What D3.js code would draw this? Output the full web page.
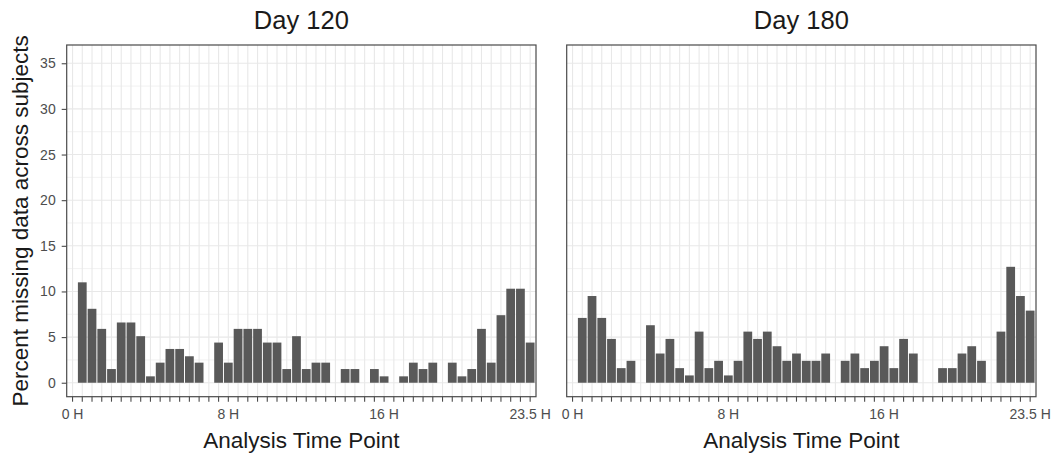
<!DOCTYPE html>
<html>
<head>
<meta charset="utf-8">
<script src="https://cdn.jsdelivr.net/npm/d3@7"></script>
<style>
body { margin: 0; background: #fff; }
text { font-family: "Liberation Sans", Arial, sans-serif; }
</style>
</head>
<body>
<script>
// analysis time points (half hour steps)
var timePoints = ["0 H","0.5 H","1 H","1.5 H","2 H","2.5 H","3 H","3.5 H","4 H","4.5 H","5 H","5.5 H",
	"6 H","6.5 H","7 H","7.5 H","8 H","8.5 H","9 H","9.5 H","10 H","10.5 H","11 H","11.5 H",
	"12 H","12.5 H","13 H","13.5 H","14 H","14.5 H","15 H","15.5 H","16 H","16.5 H","17 H","17.5 H",
	"18 H","18.5 H","19 H","19.5 H","20 H","20.5 H","21 H","21.5 H","22 H","22.5 H","23 H","23.5 H"];

var shownLabels = ["0 H","8 H","16 H","23.5 H"];

// percent missing
var day120 = [0, 11.0, 8.1, 5.9, 1.5, 6.6, 6.6, 5.1, 0.7, 2.2, 3.7, 3.7,
	2.9, 2.2, 0, 4.4, 2.2, 5.9, 5.9, 5.9, 4.4, 4.4, 1.5, 5.1,
	1.5, 2.2, 2.2, 0, 1.5, 1.5, 0, 1.5, 0.7, 0, 0.7, 2.2,
	1.5, 2.2, 0, 2.2, 0.7, 1.5, 5.9, 2.2, 7.4, 10.3, 10.3, 4.4];

var day180 = [0, 7.1, 9.5, 7.1, 4.8, 1.6, 2.4, 0, 6.3, 3.2, 4.8, 1.6,
	0.8, 5.6, 1.6, 2.4, 0.8, 2.4, 5.6, 4.8, 5.6, 4.0, 2.4, 3.2,
	2.4, 2.4, 3.2, 0, 2.4, 3.2, 1.6, 2.4, 4.0, 1.6, 4.8, 3.2,
	0, 0, 1.6, 1.6, 3.2, 4.0, 2.4, 0, 5.6, 12.7, 9.5, 7.9];

var yTicks = [0, 5, 10, 15, 20, 25, 30, 35];
var yMinor = [2.5, 7.5, 12.5, 17.5, 22.5, 27.5, 32.5];

var W = 1060, H = 454;
var plotTop = 45, plotBottom = 396.7;

var svg = d3.select("body").append("svg")
	.attr("width", W)
	.attr("height", H);

var y = d3.scaleLinear().domain([-1.53, 37.0]).range([plotBottom, plotTop]);

drawPanel = function(title, values, x0, x1, withY){
	var x = d3.scaleBand().domain(timePoints).range([x0, x1])
		.paddingInner(0.1).paddingOuter(0.15);
	var g = svg.append("g");

	// grid
	g.selectAll(".minor").data(yMinor).enter().append("line")
		.attr("x1", x0).attr("x2", x1)
		.attr("y1", function(d){ return y(d); })
		.attr("y2", function(d){ return y(d); })
		.attr("stroke", "#ebebeb").attr("stroke-width", 0.7);
	g.selectAll(".major").data(yTicks).enter().append("line")
		.attr("x1", x0).attr("x2", x1)
		.attr("y1", function(d){ return y(d); })
		.attr("y2", function(d){ return y(d); })
		.attr("stroke", "#e8e8e8").attr("stroke-width", 1.1);
	g.selectAll(".vgrid").data(timePoints).enter().append("line")
		.attr("x1", function(d){ return x(d) + x.bandwidth()/2; })
		.attr("x2", function(d){ return x(d) + x.bandwidth()/2; })
		.attr("y1", plotTop).attr("y2", plotBottom)
		.attr("stroke", "#e8e8e8").attr("stroke-width", 1.1);

	// bars
	values.forEach(function(v, i){
		if(v <= 0) return;
		g.append("rect")
			.attr("x", x(timePoints[i]))
			.attr("width", x.bandwidth())
			.attr("y", y(v))
			.attr("height", y(0) - y(v))
			.attr("fill", "#595959");
	});

	// border
	g.append("rect")
		.attr("x", x0).attr("y", plotTop)
		.attr("width", x1 - x0).attr("height", plotBottom - plotTop)
		.attr("fill", "none").attr("stroke", "#4a4a4a").attr("stroke-width", 1.2);

	// x axis
	var xAxis = d3.axisBottom(x).tickSizeInner(5).tickSizeOuter(0).tickPadding(7)
		.tickFormat(function(d){ return shownLabels.indexOf(d) >= 0 ? d : ""; });
	var ax = g.append("g").attr("transform", "translate(0," + plotBottom + ")").call(xAxis)
		.attr("font-size", 14).attr("font-family", "Liberation Sans, Arial, sans-serif");
	ax.select(".domain").remove();
	ax.selectAll("line").attr("stroke", "#4a4a4a").attr("stroke-width", 1.1);
	ax.selectAll("text").attr("fill", "#4d4d4d");

	if(withY){
		var yAxis = d3.axisLeft(y).tickValues(yTicks).tickSizeInner(5).tickSizeOuter(0).tickPadding(6);
		var ay = g.append("g").attr("transform", "translate(" + x0 + ",0)").call(yAxis)
			.attr("font-size", 14).attr("font-family", "Liberation Sans, Arial, sans-serif");
		ay.select(".domain").remove();
		ay.selectAll("line").attr("stroke", "#4a4a4a").attr("stroke-width", 1.1);
		ay.selectAll("text").attr("fill", "#4d4d4d");
	}

	// titles
	g.append("text")
		.attr("x", (x0 + x1)/2).attr("y", 29)
		.attr("text-anchor", "middle")
		.attr("font-size", 25.5).attr("fill", "#1a1a1a")
		.text(title);
	g.append("text")
		.attr("x", (x0 + x1)/2).attr("y", 448)
		.attr("text-anchor", "middle")
		.attr("font-size", 22.5).attr("fill", "#1a1a1a")
		.text("Analysis Time Point");
};

drawPanel("Day 120", day120, 66.7, 536, true);
drawPanel("Day 180", day180, 566.7, 1036, false);

svg.append("text")
	.attr("transform", "translate(28," + (plotTop + plotBottom)/2 + ") rotate(-90)")
	.attr("text-anchor", "middle")
	.attr("font-size", 22.5).attr("fill", "#1a1a1a")
	.text("Percent missing data across subjects");
</script>
</body>
</html>
